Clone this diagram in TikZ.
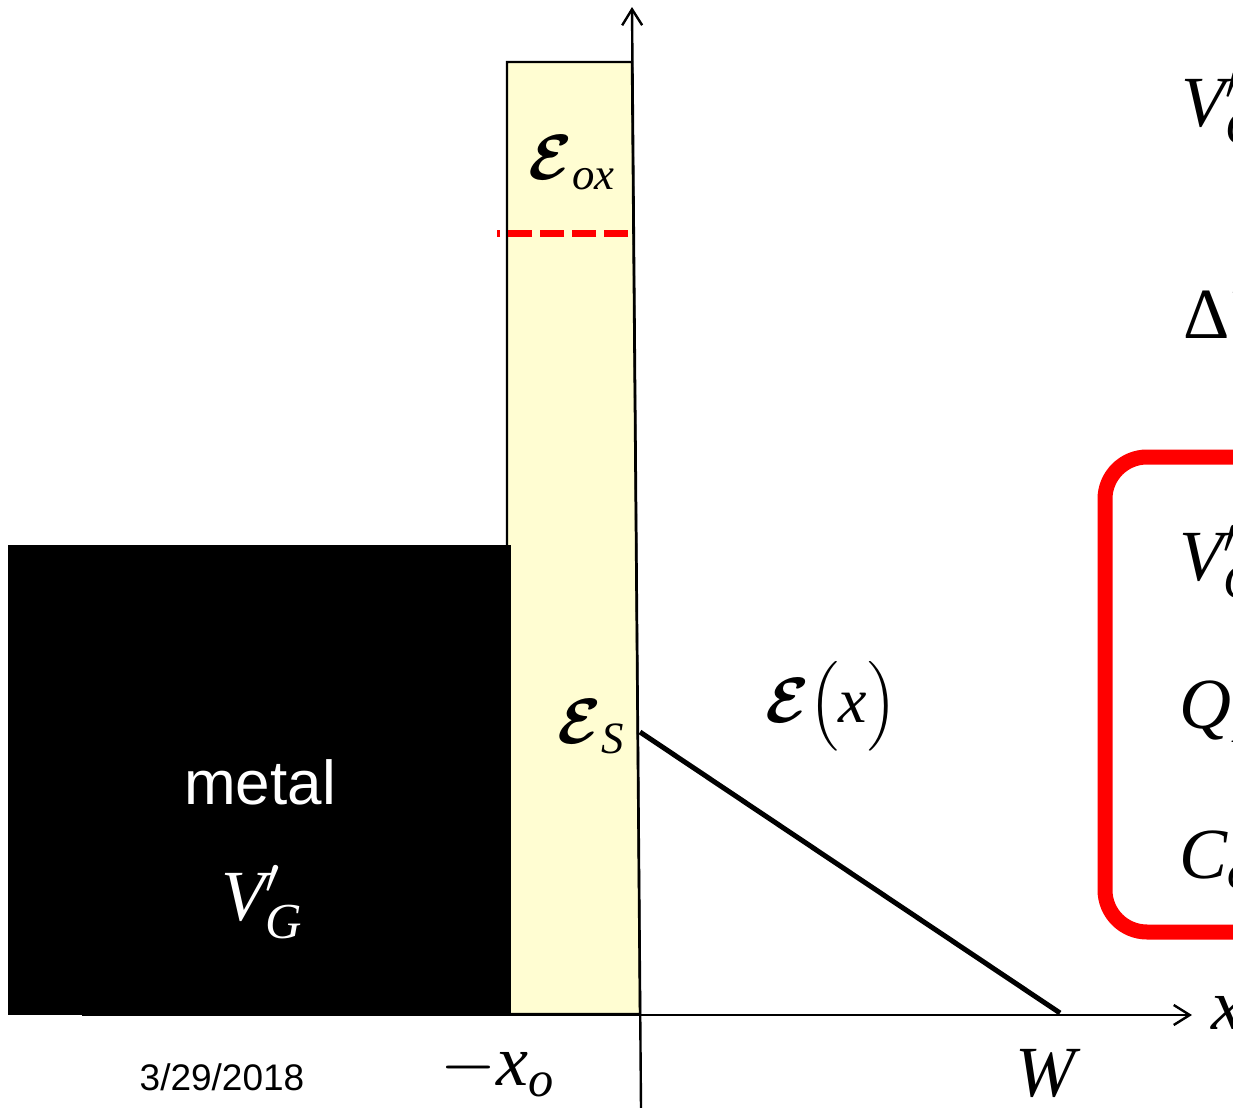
\RequirePackage{fix-cm}
\documentclass[tikz,border=0pt]{standalone}
\usepackage{amsmath}
\usepackage{fontspec}
\setmainfont{Liberation Serif}
\newfontfamily\arialfont{Liberation Sans}
\usetikzlibrary{arrows.meta}
\definecolor{oxfill}{RGB}{255,253,210}
\definecolor{boxred}{RGB}{255,0,0}
\newcommand{\mv}[1]{\text{\itshape #1}}
\newcommand{\efield}{\boldsymbol{\mathcal{E}}}

\begin{document}
\begin{tikzpicture}[x=0.5pt,y=-0.5pt,line join=miter,
  mathlbl/.style={font=\fontsize{36}{40}\selectfont,inner sep=0pt},
  fieldlbl/.style={font=\fontsize{32}{36}\selectfont,inner sep=0pt},
  axis/.style={line width=1.2pt,-{Straight Barb[length=8pt,width=10pt]}}]
\useasboundingbox (0,0) rectangle (1233,1108);
\clip (0,0) rectangle (1233,1108);
% oxide and gate
\filldraw[fill=oxfill,draw=black,line width=1.2pt] (507,62) -- (632,62) -- (640,1014) -- (507,1014) -- cycle;
\fill[black] (8,545) rectangle (511,1015);
\draw[boxred,line width=3.5pt,dash pattern=on 12pt off 4pt] (628,233) -- (497,233);
% axes
\coordinate (xleft) at (82,1015);
\coordinate (xright) at (1192,1015);
\coordinate (ybot) at (641,1108);
\coordinate (ytop) at (632,7);
\draw[axis] (xleft) -- (xright);
\draw[axis] (ybot) -- (ytop);
% field in the semiconductor
\coordinate (esurf) at (640,732);
\coordinate (wedge) at (1060,1013);
\draw[line width=2.5pt] (esurf) -- (wedge);
% labels
\node[fieldlbl] (eox) at (572,163) {$\efield_{\mv{ox}}$};
\node[fieldlbl] (es) at (591,727) {$\efield_{\mv{S}}$};
\node[fieldlbl] (ex) at (831,706) {$\efield\bigl(\mv{x}\bigr)$};
\node[font=\arialfont\fontsize{31}{36}\selectfont,text=white,inner sep=0pt] (metal) at (260,782) {metal};
\node[mathlbl,text=white] (vgm) at (262,902) {$\mv{V}'_{\mv{G}}$};
\node[font=\arialfont\fontsize{18.5}{22}\selectfont,inner sep=0pt] (date) at (222,1077) {3/29/2018};
\node[mathlbl] (xo) at (498,1070) {$-\mv{x}_{\mv{o}}$};
\node[mathlbl] (w) at (1045,1073) {$\mv{W}$};
\node[mathlbl,anchor=west] (xlbl) at (1211,1013) {$\mv{x}$};
% equations at the right edge
\node[mathlbl,anchor=west] (vgtop) at (1181,108) {$\mv{V}'_{\mv{G}}$};
\node[mathlbl,anchor=west] (dv) at (1183,315) {$\text{Δ}\mv{V}$};
\draw[boxred,line width=7.5pt,rounded corners=21pt] (1105,457) rectangle (1320,932);
\node[mathlbl,anchor=west] (vgbox) at (1179,562) {$\mv{V}'_{\mv{G}}$};
\node[mathlbl,anchor=west] (qb) at (1179,712) {$\mv{Q}_{\mv{B}}$};
\node[mathlbl,anchor=west] (co) at (1179,860) {$\mv{C}_{\mv{o}}$};
\end{tikzpicture}
\end{document}
